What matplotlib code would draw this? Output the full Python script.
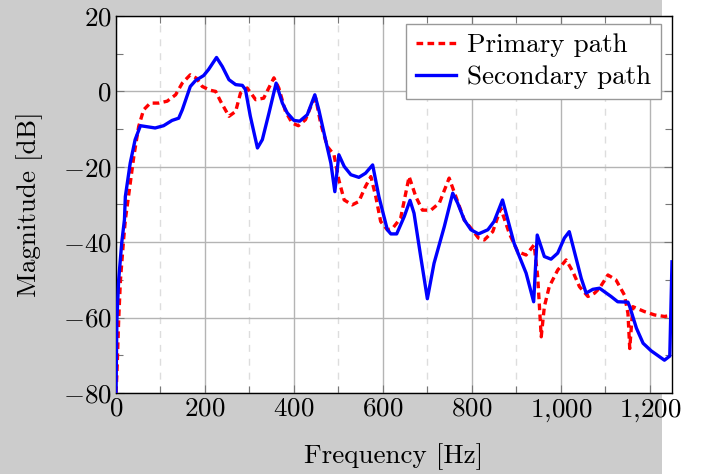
import numpy as np
import matplotlib
matplotlib.use("Agg")
import matplotlib.pyplot as plt
from matplotlib.patches import Rectangle
from matplotlib.ticker import MultipleLocator, FuncFormatter

# primary path (red dashed)
primary_f = [0, 2, 6, 10, 17, 21, 28, 40, 51, 62, 77, 96, 115, 134, 149, 167, 181,
             194, 212, 224, 235, 254, 269, 280, 295, 314, 332, 355, 366, 381, 396,
             410, 426, 441, 449, 460, 475, 490, 501, 513, 531, 546, 561, 573, 584,
             595, 610, 622, 640, 659, 674, 689, 708, 727, 749, 764, 783, 802, 815,
             828, 847, 865, 884, 903, 922, 940, 948, 956, 963, 974, 993, 1012, 1027,
             1042, 1061, 1076, 1087, 1106, 1124, 1143, 1151, 1155, 1162, 1188, 1211,
             1233, 1250]
primary_db = [-80, -75, -60.6, -50, -39.4, -34.1, -27.9, -17.3, -9.3, -4.9, -3.1, -3.1,
              -2.6, -0.9, 2.2, 4.4, 3.5, 1.3, 0.3, 0, -2.6, -6.6, -5.3, -0.4, 0.9, -2.2,
              -1.8, 3.6, 0.9, -5.3, -8.4, -9.1, -7.5, -3.1, -1.8, -8.4, -14.6, -16.8,
              -23.5, -28.8, -30.1, -29.2, -25.2, -22.6, -27.9, -34.5, -36.7, -36.3,
              -33.6, -22.6, -27.9, -31.5, -31.5, -29.6, -23.0, -27.9, -34.1, -36.9,
              -38.9, -39.4, -37.2, -31.0, -37.6, -42.5, -43.4, -40.7, -49.1, -65.1,
              -57.1, -51.8, -47.4, -44.7, -47.8, -51.8, -54.4, -53.5, -52.2, -48.7,
              -50.0, -54.0, -58.9, -68.2, -57.1, -58.4, -59.3, -59.7, -59.4]

# secondary path (blue solid)
secondary_f = [0, 2, 6, 13, 19, 21, 32, 43, 55, 66, 88, 107, 126, 141, 149, 167, 179,
               197, 208, 226, 239, 254, 269, 284, 291, 302, 318, 329, 344, 360, 374,
               385, 400, 413, 430, 447, 456, 471, 483, 492, 501, 513, 528, 546, 561,
               577, 591, 610, 618, 631, 648, 661, 670, 685, 700, 715, 738, 757, 768,
               783, 798, 815, 836, 850, 869, 895, 922, 939, 947, 963, 978, 993, 1008,
               1019, 1046, 1057, 1072, 1087, 1113, 1128, 1151, 1155, 1170, 1185, 1203,
               1233, 1245, 1250]
secondary_db = [-80, -60.6, -50, -40, -34, -27.9, -19, -12.8, -9.1, -9.3, -9.7, -9.1,
                -7.7, -7.1, -4.9, 1.3, 2.9, 4.2, 5.8, 9.0, 6.6, 3.1, 1.8, 1.6, 0.5,
                -6.6, -15.0, -12.8, -5.7, 2.2, -3.1, -5.7, -7.7, -7.9, -6.2, -0.9,
                -4.9, -12.8, -19.0, -26.6, -16.8, -19.9, -22.1, -22.8, -21.7, -19.5,
                -27.9, -36.7, -37.8, -37.8, -33.2, -28.9, -32.3, -43.8, -55.0, -45.6,
                -35.9, -27.0, -29.6, -34.1, -36.7, -37.8, -36.7, -34.5, -28.8, -40.3,
                -48.2, -55.8, -38.1, -43.8, -44.5, -42.9, -38.9, -37.2, -49.6, -53.5,
                -52.5, -52.2, -54.4, -55.8, -55.9, -57.1, -62.8, -66.8, -68.8, -71.3,
                -70.2, -45.2]

series_names = ["Primary path", "Secondary path"]
x_label = "Frequency [Hz]"
y_label = "Magnitude [dB]"

FS = 19.5
plt.rcParams["font.family"] = ["cmr10", "DejaVu Serif"]
plt.rcParams["mathtext.fontset"] = "cm"
plt.rcParams["axes.formatter.use_mathtext"] = True
plt.rcParams["font.size"] = FS

fig = plt.figure(figsize=(7.01, 4.74), dpi=100, facecolor="#cccccc")
# white strip on the right edge, behind the axes
fig.patches.append(Rectangle((662 / 701, 0), 1 - 662 / 701, 1, transform=fig.transFigure,
                             facecolor="white", edgecolor="none", zorder=-5))

ax = fig.add_axes([116 / 701, 1 - 393 / 474, 556 / 701, 377 / 474])
ax.set_zorder(2)
ax.set_facecolor("white")

ax.plot(primary_f, primary_db, color="red", lw=2.4, dashes=(2.0, 1.3),
        label=series_names[0], zorder=3)
ax.plot(secondary_f, secondary_db, color="blue", lw=2.4,
        label=series_names[1], zorder=4)

ax.set_xlim(0, 1250)
ax.set_ylim(-80, 20)
ax.xaxis.set_major_locator(MultipleLocator(200))
ax.xaxis.set_minor_locator(MultipleLocator(100))
ax.yaxis.set_major_locator(MultipleLocator(20))
ax.yaxis.set_minor_locator(MultipleLocator(10))


def fmt(v, pos):
    s = f"{int(round(v)):,}".replace(",", "{,}")
    return "$" + s + "$"


ax.xaxis.set_major_formatter(FuncFormatter(fmt))
ax.yaxis.set_major_formatter(FuncFormatter(fmt))

ax.grid(True, which="major", color="#b4b4b4", lw=1.0, ls="-", zorder=1)
ax.grid(True, which="minor", axis="x", color="#dddddd", lw=1.0, ls=(0, (5, 5)), zorder=1)

ax.tick_params(which="both", direction="in", top=True, right=True, color="#777777",
               labelsize=FS, width=0.8)
ax.tick_params(which="major", length=6, pad=3)
ax.tick_params(which="minor", length=5)
for sp in ax.spines.values():
    sp.set_color("black")
    sp.set_linewidth(1.0)

ax.set_xlabel(x_label, fontsize=FS, labelpad=14)
ax.set_ylabel(y_label, fontsize=FS, labelpad=14)

leg = ax.legend(loc="upper right", bbox_to_anchor=(0.98, 0.979), fontsize=FS,
                frameon=True, fancybox=False, edgecolor="#999999", framealpha=1,
                handlelength=1.5, handletextpad=0.4, borderpad=0.35,
                labelspacing=0.3, borderaxespad=0.0)
leg.get_frame().set_linewidth(1.0)

fig.savefig("out.png", dpi=100, facecolor=fig.get_facecolor())
